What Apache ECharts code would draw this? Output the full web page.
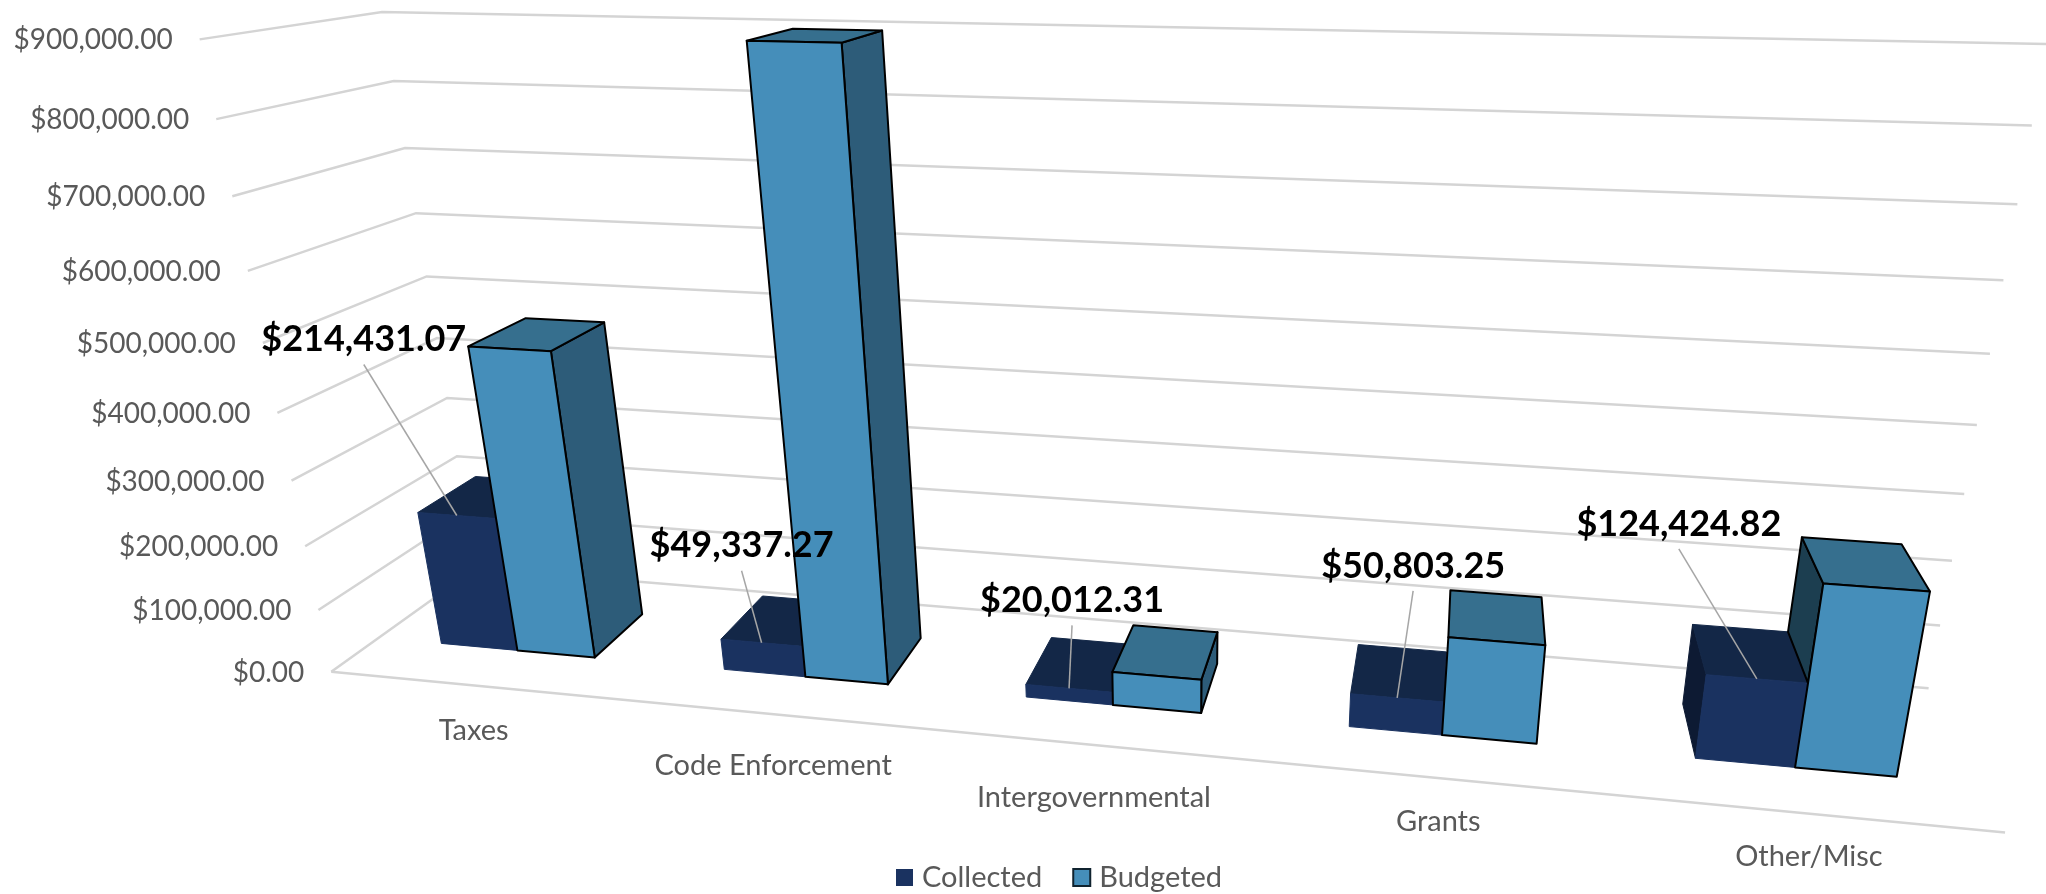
<!DOCTYPE html>
<html>
<head>
<meta charset="utf-8">
<style>
  html, body { margin: 0; padding: 0; background: #fff; }
  #main { width: 2046px; height: 894px; }
</style>
<script src="https://cdn.jsdelivr.net/npm/echarts@6/dist/echarts.min.js"></script>
</head>
<body>
<div id="main"></div>
<script>
const categories = ["Taxes", "Code Enforcement", "Intergovernmental", "Grants", "Other/Misc"];
const collected = [214431.07, 49337.27, 20012.31, 50803.25, 124424.82];
const budgeted = [475000, 900000, 52000, 148000, 265000];
const ticks = [0, 100000, 200000, 300000, 400000, 500000, 600000, 700000, 800000, 900000];

// where the walls land on screen: [u, tick index, w, x, y], used to fit the camera
const wallAnchors = [
  [0, 0, 0, 332, 672], [0, 3, 0, 292, 481], [0, 6, 0, 247.6, 271], [0, 9, 0, 198.6, 39],
  [0, 0, 1, 475, 567], [0, 3, 1, 447, 399], [0, 6, 1, 415, 213], [0, 9, 1, 384, 12],
  [1, 0, 1, 1929, 688], [1, 3, 1, 1964, 495], [1, 6, 1, 2004, 281], [1, 9, 1, 2046, 43],
  [1, 0, 0, 2005, 832]
];

// label position relative to the top of its collected bar
const labelOffsets = [[-93, -176], [-20, -97], [3, -88], [16, -132], [-78, -155]];
// category text sits a little unevenly under the floor edge
const categoryDrop = [45, 51, 53, 44, 43];

const FONT = "Lato, 'Noto Sans', sans-serif";
const GRAY = "#595959";
const BAR_START = 0.23, BAR_WIDTH = 0.275;  // share of a category band
const DEPTH_FRONT = 0.3, DEPTH_BACK = 0.7;

const collectedFaces = { front: "#1a3260", top: "#132747", left: "#0d1a33" };
const budgetedFaces = { front: "#458eba", top: "#366f8e", left: "#1c3e50", right: "#2d5c79" };

function solve(A, b) {
  const n = b.length;
  for (let i = 0; i < n; i++) {
    let p = i;
    for (let r = i + 1; r < n; r++) if (Math.abs(A[r][i]) > Math.abs(A[p][i])) p = r;
    [A[i], A[p]] = [A[p], A[i]];
    [b[i], b[p]] = [b[p], b[i]];
    for (let r = i + 1; r < n; r++) {
      const f = A[r][i] / A[i][i];
      for (let c = i; c < n; c++) A[r][c] -= f * A[i][c];
      b[r] -= f * b[i];
    }
  }
  const x = new Array(n).fill(0);
  for (let i = n - 1; i >= 0; i--) {
    let s = b[i];
    for (let c = i + 1; c < n; c++) s -= A[i][c] * x[c];
    x[i] = s / A[i][i];
  }
  return x;
}

// least squares fit of a 3x4 projection to the anchors
function fitCamera() {
  const rows = [], rhs = [];
  wallAnchors.forEach(([u, t, w, x, y]) => {
    const v = t / 9;
    rows.push([u, v, w, 1, 0, 0, 0, 0, -x * u, -x * v, -x * w]); rhs.push(x);
    rows.push([0, 0, 0, 0, u, v, w, 1, -y * u, -y * v, -y * w]); rhs.push(y);
  });
  const N = Array.from({ length: 11 }, () => new Array(11).fill(0));
  const d = new Array(11).fill(0);
  rows.forEach((r, k) => {
    for (let i = 0; i < 11; i++) {
      d[i] += r[i] * rhs[k];
      for (let j = 0; j < 11; j++) N[i][j] += r[i] * r[j];
    }
  });
  return solve(N, d);
}
const cam = fitCamera();
function project(u, v, w) {
  const h = cam[8] * u + cam[9] * v + cam[10] * w + 1;
  return [
    (cam[0] * u + cam[1] * v + cam[2] * w + cam[3]) / h,
    (cam[4] * u + cam[5] * v + cam[6] * w + cam[7]) / h
  ];
}

// axis scales -> unit box
function unitV(api, params, value) {
  const c = params.coordSys;
  return (c.y + c.height - api.coord([0, value])[1]) / c.height;
}
function bandU(api, params, index) {
  const c = params.coordSys;
  const band = api.size([1, 0])[0];
  return { start: (api.coord([index, 0])[0] - band / 2 - c.x) / c.width, width: band / c.width };
}

function renderGrid(params, api) {
  const v = unitV(api, params, api.value(1));
  const points = [project(0, v, 0), project(0, v, 1), project(1, v, 1)];
  const children = [{
    type: "polyline",
    shape: { points },
    style: { stroke: "#d4d4d4", lineWidth: 2.5, fill: null }
  }, {
    type: "text",
    style: {
      text: "$" + api.value(1).toLocaleString("en-US", { minimumFractionDigits: 2 }),
      x: points[0][0] - 27, y: points[0][1] + 1,
      align: "right", verticalAlign: "middle", font: "28px " + FONT, fill: GRAY
    }
  }];
  if (api.value(1) === 0) {
    children.push({
      type: "line",
      shape: { x1: project(0, 0, 0)[0], y1: project(0, 0, 0)[1], x2: project(1, 0, 0)[0], y2: project(1, 0, 0)[1] },
      style: { stroke: "#d4d4d4", lineWidth: 2.5 }
    });
  }
  return { type: "group", children };
}

function renderCategory(params, api) {
  const i = api.value(0);
  const b = bandU(api, params, i);
  const p = project(b.start + b.width / 2, 0, 0);
  return {
    type: "text",
    style: { text: categories[i], x: p[0], y: p[1] + categoryDrop[i], align: "center", verticalAlign: "middle", font: "29px " + FONT, fill: GRAY }
  };
}

function barRenderer(slot, faces, outline, baseValues) {
  return function (params, api) {
    const i = api.value(0);
    const b = bandU(api, params, i);
    const u0 = b.start + b.width * (BAR_START + slot * BAR_WIDTH);
    const u1 = u0 + b.width * BAR_WIDTH;
    const top = unitV(api, params, api.value(1));
    const low = baseValues ? unitV(api, params, baseValues[i]) : 0;
    const style = (fill) => ({ fill, stroke: outline ? "#000" : fill, lineWidth: outline ? 2 : 1, lineJoin: "round" });
    const face = (fill, pts) => ({ type: "polygon", shape: { points: pts.map((p) => project(p[0], p[1], p[2])) }, style: style(fill) });
    const children = [];
    if (project(u0, top, DEPTH_BACK)[0] < project(u0, top, DEPTH_FRONT)[0] && faces.left) {
      children.push(face(faces.left, [[u0, low, DEPTH_FRONT], [u0, top, DEPTH_FRONT], [u0, top, DEPTH_BACK], [u0, low, DEPTH_BACK]]));
    }
    if (project(u1, top, DEPTH_BACK)[0] > project(u1, top, DEPTH_FRONT)[0] && faces.right) {
      children.push(face(faces.right, [[u1, 0, DEPTH_FRONT], [u1, top, DEPTH_FRONT], [u1, top, DEPTH_BACK], [u1, 0, DEPTH_BACK]]));
    }
    children.push(face(faces.top, [[u0, top, DEPTH_FRONT], [u1, top, DEPTH_FRONT], [u1, top, DEPTH_BACK], [u0, top, DEPTH_BACK]]));
    children.push(face(faces.front, [[u0, 0, DEPTH_FRONT], [u1, 0, DEPTH_FRONT], [u1, top, DEPTH_FRONT], [u0, top, DEPTH_FRONT]]));
    return { type: "group", children };
  };
}

function renderLabel(params, api) {
  const i = api.value(0);
  const b = bandU(api, params, i);
  const u = b.start + b.width * (BAR_START + BAR_WIDTH / 2);
  const anchor = project(u, unitV(api, params, api.value(1)), DEPTH_FRONT);
  const [dx, dy] = labelOffsets[i];
  const x = anchor[0] + dx, y = anchor[1] + dy;
  return {
    type: "group",
    children: [{
      type: "line",
      shape: { x1: x, y1: y + 25, x2: anchor[0], y2: anchor[1] },
      style: { stroke: "#a6a6a6", lineWidth: 1.5 }
    }, {
      type: "text",
      style: {
        text: "$" + api.value(1).toLocaleString("en-US", { minimumFractionDigits: 2 }),
        x, y, align: "center", verticalAlign: "middle", font: "bold 36px " + FONT, fill: "#000"
      }
    }]
  };
}

const chart = echarts.init(document.getElementById("main"));
chart.setOption({
  animation: false,
  backgroundColor: "#fff",
  grid: { left: 0, right: 0, top: 0, bottom: 0 },
  xAxis: { type: "category", data: categories, show: false },
  yAxis: { type: "value", min: 0, max: 900000, interval: 100000, show: false },
  legend: {
    data: ["Collected", "Budgeted"],
    left: 896, top: 863, padding: 0, itemWidth: 17, itemHeight: 17, itemGap: 30, icon: "rect",
    textStyle: { fontFamily: FONT, fontSize: 29, color: GRAY, padding: [0, 0, 0, 4] }
  },
  series: [
    {
      type: "custom", name: "grid", silent: true, renderItem: renderGrid,
      encode: { x: 0, y: 1 }, data: ticks.map((t) => [0, t])
    },
    {
      type: "custom", name: "categories", silent: true, renderItem: renderCategory,
      encode: { x: 0, y: 1 }, data: categories.map((c, i) => [i, 0])
    },
    {
      type: "custom", name: "Collected", renderItem: barRenderer(0, collectedFaces, false),
      itemStyle: { color: collectedFaces.front },
      encode: { x: 0, y: 1 }, data: collected.map((v, i) => [i, v])
    },
    {
      type: "custom", name: "Budgeted", renderItem: barRenderer(1, budgetedFaces, true, collected),
      itemStyle: { color: budgetedFaces.front, borderColor: "#10232f", borderWidth: 1.5 },
      encode: { x: 0, y: 1 }, data: budgeted.map((v, i) => [i, v])
    },
    {
      type: "custom", name: "labels", silent: true, renderItem: renderLabel,
      encode: { x: 0, y: 1 }, data: collected.map((v, i) => [i, v])
    }
  ]
});
</script>
</body>
</html>
